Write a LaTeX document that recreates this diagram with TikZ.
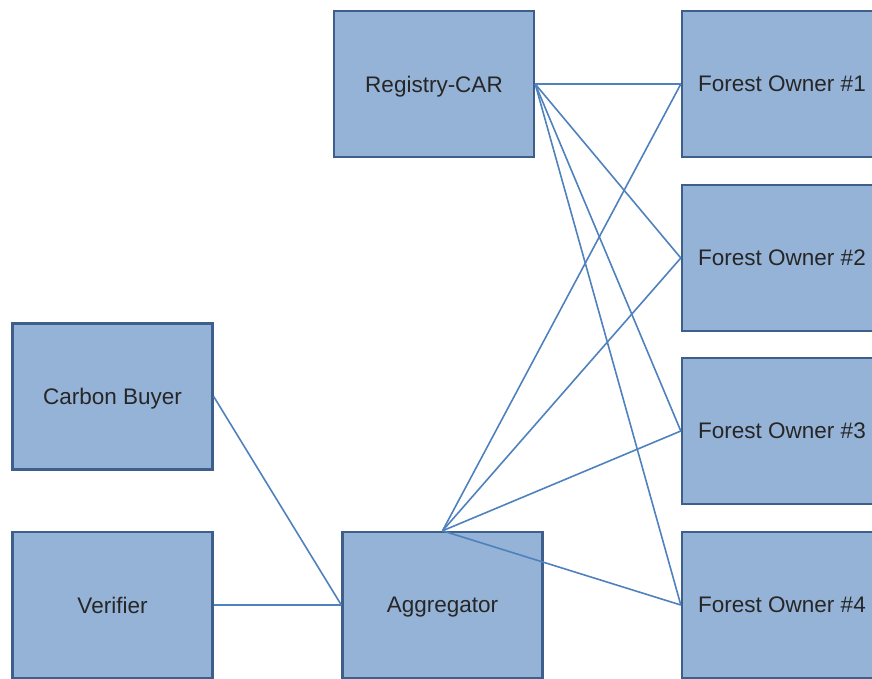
\documentclass[tikz,border=0pt]{standalone}
\usepackage{fontspec}
\setmainfont{Liberation Sans}
\usepackage{xcolor}
\usetikzlibrary{positioning}
\definecolor{boxfill}{RGB}{149,179,215}
\definecolor{boxline}{RGB}{62,94,140}
\definecolor{wire}{RGB}{79,129,189}
\tikzset{
  party/.style={rectangle,draw=boxline,fill=boxfill,line width=2.4pt,
    minimum width=200pt,minimum height=146pt,inner sep=0pt,text depth=0pt,
    font=\fontsize{22.5}{26}\selectfont,text=black!85},
  tie/.style={draw=wire,line width=1.6pt},
}
\begin{document}
\begin{tikzpicture}[x=1pt,y=-1pt]
\useasboundingbox (0,0) rectangle (872,678);

% --- registry and forest owners ---
\node[party] (reg) at (434,84) {Registry-CAR};
\node[party] (fo1) at (782,84) {Forest Owner \#1};
\node[party] (fo2) at (782,258) {Forest Owner \#2};
\node[party] (fo3) at (782,431) {Forest Owner \#3};
\node[party] (fo4) at (782,605) {Forest Owner \#4};

% --- buyer side ---
\node[party] (buyer) at (112.5,396.5) {Carbon Buyer};
\node[party] (ver) at (112.5,605) {Verifier};
\node[party] (agg) at (442.5,605) {Aggregator};

% links
\foreach \f in {fo1,fo2,fo3,fo4} {
  \draw[tie] (reg.east) -- (\f.west);
  \draw[tie] (agg.north) -- (\f.west);
}
\draw[tie] (buyer.east) -- (agg.west);
\draw[tie] (ver.east) -- (agg.west);
\end{tikzpicture}
\end{document}
